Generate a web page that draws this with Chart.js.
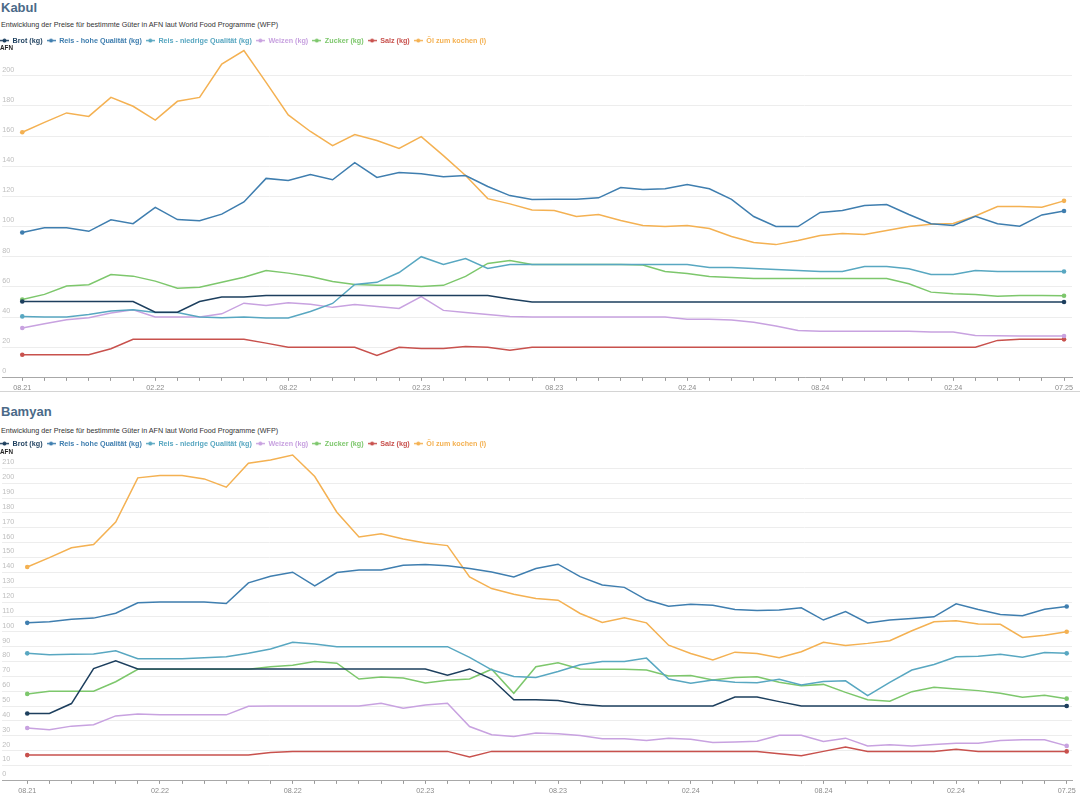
<!DOCTYPE html>
<html><head><meta charset="utf-8">
<script src="https://cdn.jsdelivr.net/npm/chart.js@4.4.1/dist/chart.umd.min.js"></script>
<style>
html,body{margin:0;padding:0;background:#fff;width:1080px;height:795px;overflow:hidden;font-family:"Liberation Sans",Arial,sans-serif;}
.title{position:absolute;left:1px;font-weight:bold;font-size:13px;color:#4b6a88;line-height:16px;white-space:nowrap;}
.sub{position:absolute;left:1px;font-size:7.2px;color:#333;line-height:9px;white-space:nowrap;}
.cv{position:absolute;left:0;width:1080px;height:361.5px;}
.sep{position:absolute;left:0;width:1080px;top:391px;height:1px;background:#d4d4d4;}
</style></head><body>
<div class="title" style="top:0px">Kabul</div>
<div class="sub" style="top:19.5px">Entwicklung der Preise für bestimmte Güter in AFN laut World Food Programme (WFP)</div>
<div class="cv" style="top:32.5px"><canvas id="c1"></canvas></div>
<div class="sep"></div>
<div class="title" style="top:404px">Bamyan</div>
<div class="sub" style="top:425.5px">Entwicklung der Preise für bestimmte Güter in AFN laut World Food Programme (WFP)</div>
<div class="cv" style="top:435.5px"><canvas id="c2"></canvas></div>
<script>
// ---- categories / ticks ----
const seriesNames = ['Brot (kg)', 'Reis - hohe Qualität (kg)', 'Reis - niedrige Qualität (kg)', 'Weizen (kg)', 'Zucker (kg)', 'Salz (kg)', 'Öl zum kochen (l)'];
const seriesColors = ['#1d3f5e', '#3f7eaf', '#58a7c1', '#c8a2e0', '#7dc76c', '#c8514d', '#f4b152'];
const xTickIndex = [0, 6, 12, 18, 24, 30, 36, 42, 47];
const xTickLabels = ['08.21', '02.22', '08.22', '02.23', '08.23', '02.24', '08.24', '02.24', '07.25'];
const yTicksKabul = [0, 20, 40, 60, 80, 100, 120, 140, 160, 180, 200];
const yTicksBamyan = [0, 10, 20, 30, 40, 50, 60, 70, 80, 90, 100, 110, 120, 130, 140, 150, 160, 170, 180, 190, 200, 210];
const unitLabel = 'AFN';

// ---- Kabul (monthly, 08.21 - 07.25) ----
const kabulBrot = [50.3,50.3,50.3,50.3,50.3,50.3,43.2,43.2,50.3,53.2,53.2,54.3,54.3,54.3,54.3,54.3,54.3,54.3,54.3,54.3,54.3,54.3,52,50,50,50,50,50,50,50,50,50,50,50,50,50,50,50,50,50,50,50,50,50,50,50,50,50];
const kabulReisHoch = [96,99.2,99.2,96.8,104.5,101.9,112.7,104.6,103.8,108.2,116.3,131.9,130.5,134.4,131,142.4,132.5,135.8,135,133,133.8,126.5,120.5,117.9,118,118,119,125.8,124.5,125,127.8,125,118,106.6,100,100,109.3,110.6,114,114.6,108,101.8,100.7,106.8,101.8,100.2,107.7,110.3];
const kabulReisNiedrig = [40.4,40,40,41.7,44,44.8,43,43,40,39.5,40,39.3,39.3,43.7,49,61.6,63,69.5,80,74.8,78.8,72.2,74.8,74.8,74.8,74.8,74.8,74.8,74.8,74.8,74.8,72.8,72.8,72.2,71.5,70.9,70.2,70.2,73.5,73.5,72,68.2,68.2,70.9,70.2,70.2,70.2,70.2];
const kabulWeizen = [32.7,35.5,38.2,39.5,42.6,44.8,40,40,40,42.1,49.2,47.7,49.5,48.5,46.4,48.3,47,45.7,53.6,44.4,43,41.7,40.4,40,40,40,40,40,40,40,38.5,38.5,38,36.5,34,31,30.5,30.5,30.5,30.5,30.5,30,30,27.8,27.6,27.5,27.5,27.4];
const kabulZucker = [51.6,55,60.5,61.4,68.2,67.1,63.8,59.1,59.8,63.1,66.4,70.9,69.1,66.9,63.6,61.6,61,61,60.3,61,66.9,75.5,77.5,74.8,74.8,74.8,74.8,74.8,74.5,70.2,68.9,66.9,66.2,65.6,65.6,65.6,65.6,65.6,65.6,65.6,62,56.5,55.4,55,53.8,54.3,54.3,54.1];
const kabulSalz = [15,15,15,15,19,25.2,25.2,25.2,25.2,25.2,25.2,22.7,20,20,20,20,14.6,19.9,19.2,19.2,20.5,19.9,17.9,19.9,20,20,20,20,20,20,20,20,20,20,20,20,20,20,20,20,20,20,20,20,24.5,25.2,25.2,25.2];
const kabulOel = [162.5,169,175.3,173,185.6,179.7,170.6,183,185.6,207.7,216.6,195.6,174,163,153.6,161,157,151.7,159.6,147,133.8,118.5,115,111,110.6,106.6,108,104,100.7,100,100.7,98.7,93.4,89.4,88,90.7,94,95.4,94.7,97.4,100,101.5,102,107,113.2,113.2,112.8,117];

// ---- Bamyan (monthly, 08.21 - 07.25) ----
const bamyanBrot = [45,45,51.7,75.2,80.5,75,75,75,75,75,75,75,75,75,75,75,75,75,75,70.7,75,68.2,54.2,54.2,53.7,51.3,50.1,50.1,50.1,50.1,50.1,50.1,56.1,56.1,53,50.1,50.1,50.1,50.1,50.1,50.1,50.1,50.1,50.1,50.1,50.1,50.1,50.1];
const bamyanReisHoch = [106,106.7,108.5,109.2,112.5,119.5,120.1,120,120,119,132.9,137.4,140.1,130.9,139.9,141.6,141.6,144.8,145.3,144.5,142.6,140.3,136.9,142.6,145.5,137.1,131.5,129.9,121.5,117.2,118.5,117.9,115,114.3,114.7,116.1,107.9,113.6,106,107.9,109,110.1,118.8,115,111.7,110.8,115.2,117];
const bamyanReisNiedrig = [85.5,84.6,84.8,85,87.2,81.9,81.9,81.9,82.5,83.2,85.5,88.4,93,91.7,90,90,90,90,90,90,82.8,74.4,69.9,69.3,73.3,77.8,80,80,82.3,68.2,65.3,67.5,66,65.7,68,64.2,66.6,67,57,66,74.3,78,83.2,83.6,84.8,82.8,86.1,85.5];
const bamyanWeizen = [35.2,34,36.5,37.4,43.4,44.6,44.1,44.1,44.1,44.1,49.9,50,50,50,50,50,51.9,48.6,50.8,51.9,36.2,30.7,29.5,31.8,31.3,30.2,28,28,26.8,28.4,27.7,25.5,25.9,26.4,30.4,30.4,26.1,28.4,23.2,23.9,23.2,24.1,25,25,26.8,27.3,27.3,23.2];
const bamyanZucker = [58.2,60,60,60,66.4,74.8,74.8,74.8,74.8,74.8,74.8,76.5,77.5,80,78.9,68.2,69.5,68.9,65.5,67.3,68.2,74.8,58.6,76.5,79.2,75,74.8,74.8,74.3,70.3,70.5,67.5,69.3,69.8,66,63.7,64.6,59.2,54.2,53.3,59.7,62.6,61.5,60.4,58.6,55.9,57.3,55];
const bamyanSalz = [17,17,17,17,17,17,17,17,17,17,17,18.8,19.5,19.5,19.5,19.5,19.5,19.5,19.5,19.5,15.7,19.5,19.5,19.5,19.5,19.5,19.5,19.5,19.5,19.5,19.5,19.5,19.5,19.5,17.9,16.5,19.5,22.4,19.5,19.5,19.5,19.5,20.9,19.5,19.5,19.5,19.5,19.5];
const bamyanOel = [143.6,149.9,156.6,158.7,173.8,203.6,205.2,205.2,202.9,197.3,213.4,215.7,219,204.5,180.5,163.8,166,162.4,159.7,158,136.9,129.1,125.3,122.4,121.3,112.3,106.3,109.4,106,91,85.4,81,86.3,85.4,82.5,86.6,93,90.8,92.2,94,100.7,106.7,107.4,105.2,105,96.2,97.6,100];

const FONT = '"Liberation Sans", Arial, sans-serif';
Chart.defaults.font.family = FONT;

function markerImage(color) {
  const c = document.createElement('canvas');
  c.width = 9; c.height = 5;
  const g = c.getContext('2d');
  g.strokeStyle = color; g.lineWidth = 1.4;
  g.beginPath(); g.moveTo(0, 2.5); g.lineTo(9, 2.5); g.stroke();
  g.fillStyle = color; g.beginPath(); g.arc(4.5, 2.5, 2, 0, Math.PI * 2); g.fill();
  return c;
}
const markers = seriesColors.map(markerImage);

const legendShift = {
  id: 'legendShift',
  afterLayout(chart) {
    const lg = chart.legend; if (!lg) return;
    const p = lg.options.labels.padding;
    lg.left -= p; lg.right -= p;
  }
};
const unitPlugin = {
  id: 'unitLabel',
  afterDraw(chart, args, opts) {
    const c = chart.ctx; c.save();
    c.font = 'bold 6.3px ' + FONT; c.fillStyle = '#222';
    c.textBaseline = 'middle'; c.textAlign = 'left';
    c.fillText(unitLabel, 0, opts.y);
    c.restore();
  }
};

function makeChart(id, seriesList, cfg) {
  const n = seriesList[0].length;
  const datasets = seriesList.map((vals, k) => ({
    label: seriesNames[k],
    data: vals.map((v, i) => ({ x: i, y: v })),
    borderColor: seriesColors[k],
    backgroundColor: seriesColors[k],
    borderWidth: 1.5,
    tension: 0,
    pointRadius: ctx => (ctx.dataIndex === 0 || ctx.dataIndex === n - 1) ? 2.3 : 0,
    pointBackgroundColor: seriesColors[k],
    pointBorderWidth: 0,
    pointHoverRadius: 0,
    fill: false
  }));
  return new Chart(document.getElementById(id), {
    type: 'line',
    data: { datasets },
    plugins: [legendShift, unitPlugin],
    options: {
      responsive: true, maintainAspectRatio: false, animation: false,
      layout: { padding: { left: 0, right: 8, top: 0, bottom: 0 } },
      plugins: {
        tooltip: { enabled: false },
        unitLabel: { y: cfg.unitY },
        legend: {
          position: 'top', align: 'start', maxHeight: cfg.legendH,
          labels: {
            usePointStyle: true, pointStyleWidth: 9, padding: 4,
            font: { size: 7.2, weight: 'bold', family: FONT },
            generateLabels(chart) {
              return chart.data.datasets.map((ds, i) => ({
                text: ds.label, fillStyle: ds.borderColor, strokeStyle: ds.borderColor,
                fontColor: ds.borderColor, lineWidth: 0, pointStyle: markers[i],
                hidden: false, datasetIndex: i
              }));
            }
          }
        }
      },
      scales: {
        x: {
          type: 'linear', min: cfg.xMin, max: cfg.xMax,
          afterBuildTicks: s => { s.ticks = Array.from({ length: n }, (_, i) => ({ value: i })); },
          ticks: {
            autoSkip: false, maxRotation: 0, minRotation: 0, padding: 2.5,
            color: '#8a8a8a', font: { size: 7.2 },
            callback: v => { const j = xTickIndex.indexOf(v); return j >= 0 ? xTickLabels[j] : ''; }
          },
          grid: { drawOnChartArea: false, drawTicks: true, tickLength: 3.5, color: '#9a9a9a', lineWidth: 1 },
          border: { display: true, color: '#a8a8a8', width: 1 }
        },
        y: {
          min: 0, max: 220,
          afterBuildTicks: s => { s.ticks = cfg.yTicks.map(v => ({ value: v })); },
          afterFit: s => { s.width = 0; },
          ticks: {
            mirror: true, padding: 0, labelOffset: -6,
            color: '#bdbdbd', font: { size: 7.2 }
          },
          grid: { drawTicks: false, color: '#ededed', lineWidth: 1 },
          border: { display: false }
        }
      }
    }
  });
}

makeChart('c1', [kabulBrot, kabulReisHoch, kabulReisNiedrig, kabulWeizen, kabulZucker, kabulSalz, kabulOel],
  { xMin: -0.901, xMax: 47.36, legendH: 12.5, unitY: 15.5, yTicks: yTicksKabul });
makeChart('c2', [bamyanBrot, bamyanReisHoch, bamyanReisNiedrig, bamyanWeizen, bamyanZucker, bamyanSalz, bamyanOel],
  { xMin: -1.128, xMax: 47.24, legendH: 17.5, unitY: 16.5, yTicks: yTicksBamyan });
</script>
</body></html>
